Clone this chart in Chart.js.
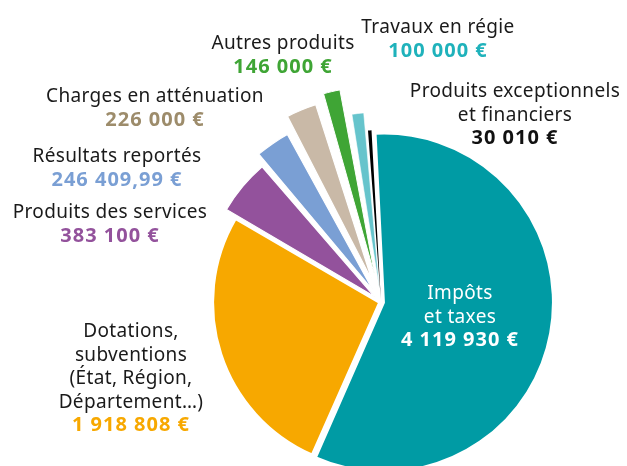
<!DOCTYPE html>
<html>
<head>
<meta charset="utf-8">
<script src="https://cdn.jsdelivr.net/npm/chart.js@4/dist/chart.umd.min.js"></script>
<style>
  html, body { margin: 0; padding: 0; background: #ffffff; }
  #wrap { width: 627px; height: 466px; position: relative; }
</style>
</head>
<body>
<div id="wrap"><canvas id="c" width="627" height="466"></canvas></div>
<script>
// ---- data ----
const categories = [
  "Impôts et taxes",
  "Dotations, subventions (État, Région, Département…)",
  "Produits des services",
  "Résultats reportés",
  "Charges en atténuation",
  "Autres produits",
  "Travaux en régie",
  "Produits exceptionnels et financiers"
];
const amounts = [4119930, 1918808, 383100, 246409.99, 226000, 146000, 100000, 30010];
const labelLines = [
  ["Impôts", "et taxes"],
  ["Dotations,", "subventions", "(État, Région,", "Département…)"],
  ["Produits des services"],
  ["Résultats reportés"],
  ["Charges en atténuation"],
  ["Autres produits"],
  ["Travaux en régie"],
  ["Produits exceptionnels", "et financiers"]
];

// ---- styles ----
const sliceColors = ["#009ba4", "#f7a800", "#93529c", "#7a9fd4", "#c9b9a7", "#3fa535", "#66c4cc", "#000000"];
const valueColors = ["#ffffff", "#f7a800", "#93529c", "#7a9fd4", "#9d8c6b", "#3fa535", "#1fb2bb", "#111111"];
const nameColors  = ["#ffffff", "#1a1a1a", "#1a1a1a", "#1a1a1a", "#1a1a1a", "#1a1a1a", "#1a1a1a", "#1a1a1a"];
const sliceOffsets = [12, 8, 34, 58, 93, 107, 50, 12];
const sliceBorders = [2, 2, 1.2, 1.2, 1.2, 1, 0.6, 0];
// label anchor: centre x, first baseline y
const labelAnchors = [[460, 299], [131, 337], [110, 218], [117, 162], [155, 102], [283, 49], [438, 33], [515, 97]];
const FONT_FAMILY = "'Noto Sans', Roboto, sans-serif";
const NAME_SIZE = 19;
const VALUE_SIZE = 20;
const LINE_H = 23.5;

function formatEuro(v) {
  const neg = v < 0;
  v = Math.abs(v);
  let intPart = Math.floor(v);
  let dec = Math.round((v - intPart) * 100);
  let s = String(intPart).replace(/\B(?=(\d{3})+(?!\d))/g, " ");
  if (dec > 0) s += "," + String(dec).padStart(2, "0");
  return (neg ? "-" : "") + s + " €";
}

const labelPlugin = {
  id: "sliceLabels",
  afterDraw(chart) {
    const ctx = chart.ctx;
    ctx.save();
    ctx.textAlign = "center";
    ctx.textBaseline = "alphabetic";
    chart.data.labels.forEach((lab, i) => {
      const [x, y0] = labelAnchors[i];
      const lines = labelLines[i];
      ctx.font = "400 " + NAME_SIZE + "px " + FONT_FAMILY;
      ctx.letterSpacing = "0.35px";
      ctx.fillStyle = nameColors[i];
      lines.forEach((ln, k) => ctx.fillText(ln, x, y0 + k * LINE_H));
      ctx.font = "700 " + VALUE_SIZE + "px " + FONT_FAMILY;
      ctx.letterSpacing = "1px";
      ctx.fillStyle = valueColors[i];
      ctx.fillText(formatEuro(chart.data.datasets[0].data[i]), x, y0 + lines.length * LINE_H);
    });
    ctx.restore();
  }
};

new Chart(document.getElementById("c"), {
  type: "pie",
  data: {
    labels: categories,
    datasets: [{
      data: amounts,
      backgroundColor: sliceColors,
      borderColor: "#ffffff",
      borderWidth: sliceBorders,
      offset: sliceOffsets,
      hoverOffset: 0,
      radius: 166,
      clip: false
    }]
  },
  options: {
    responsive: false,
    animation: false,
    rotation: -3,
    layout: { padding: { left: 135, top: 138, right: 0, bottom: 0 } },
    plugins: {
      legend: { display: false },
      tooltip: { enabled: false }
    },
    events: []
  },
  plugins: [labelPlugin]
});
</script>
</body>
</html>
